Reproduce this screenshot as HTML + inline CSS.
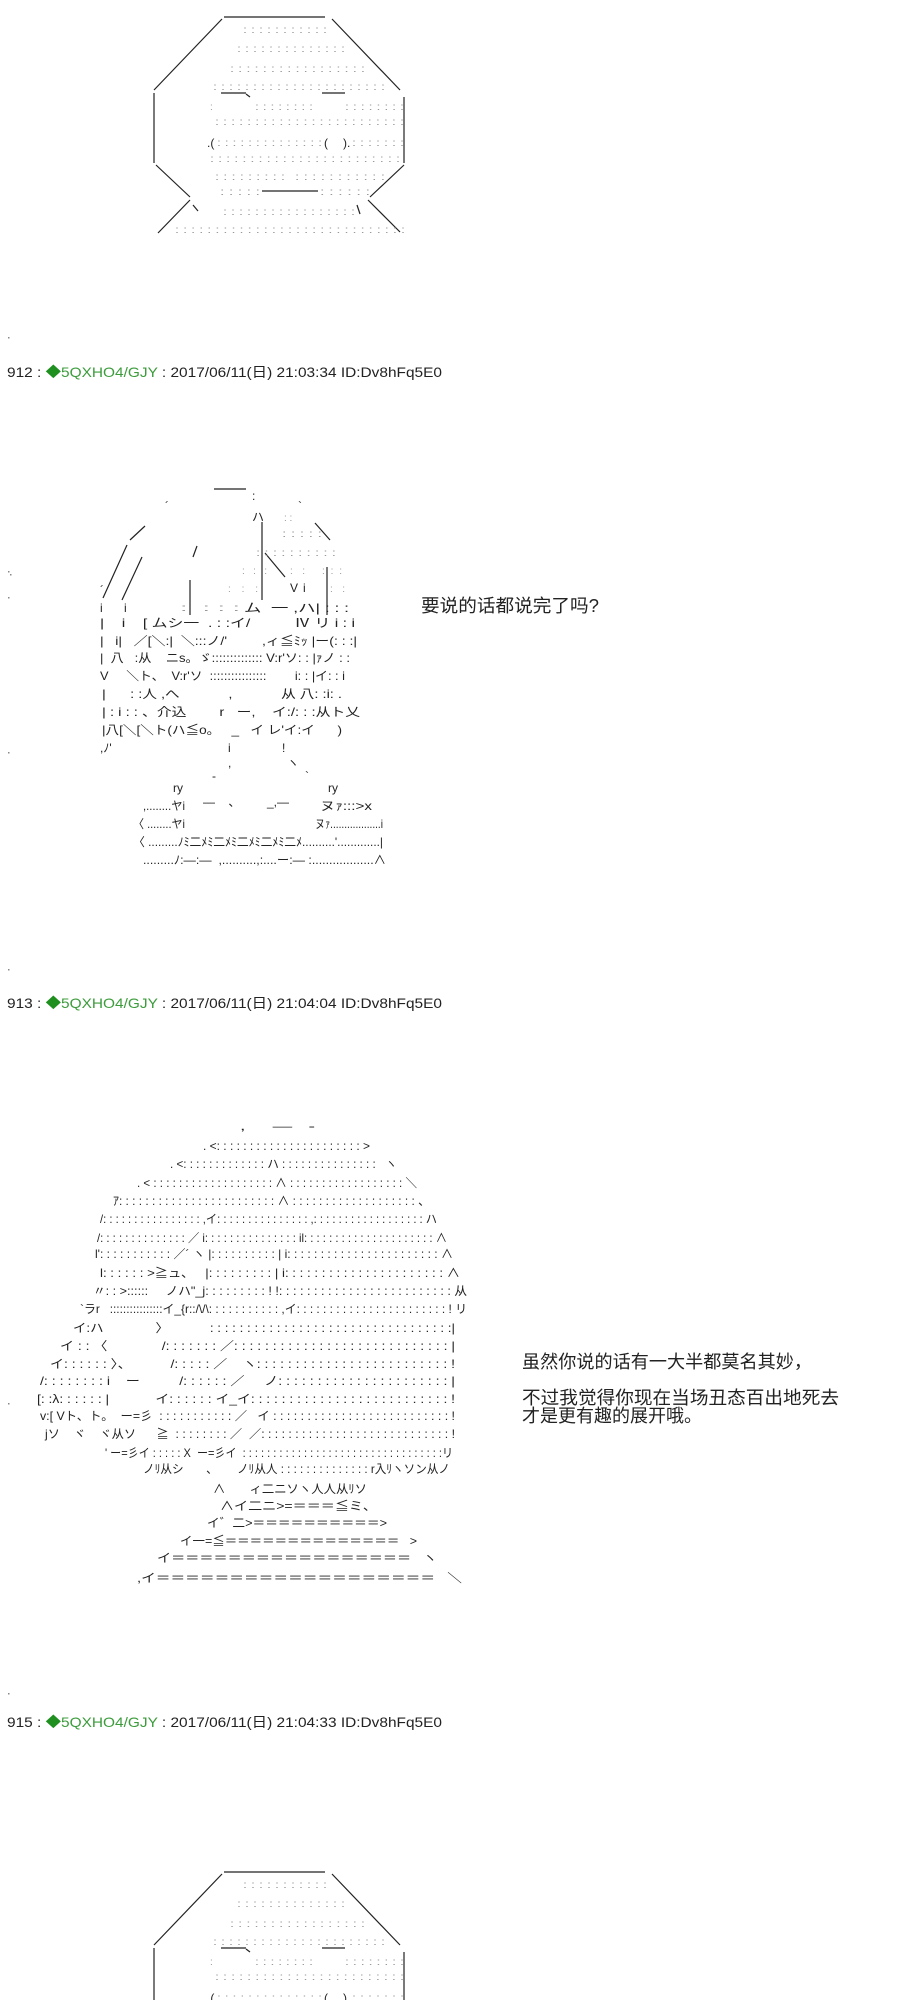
<!DOCTYPE html>
<html><head><meta charset="utf-8"><style>
html,body{margin:0;padding:0;background:#fff;}
svg{display:block;}
.a{font-family:"Liberation Sans","Noto Sans CJK JP",sans-serif;font-size:12px;fill:#222;white-space:pre;}
.d{font-family:"Liberation Sans",sans-serif;font-size:10px;fill:#999;white-space:pre;}
.h{font-family:"Liberation Sans","Noto Sans CJK JP",sans-serif;font-size:14px;fill:#222;white-space:pre;}
.s{font-family:"Liberation Sans","Noto Sans CJK SC",sans-serif;font-size:18px;fill:#222;}
line,polyline{stroke:#222;stroke-width:1.2;fill:none;}
</style></head><body>
<svg width="900" height="2000" viewBox="0 0 900 2000" xmlns="http://www.w3.org/2000/svg">
<rect width="900" height="2000" fill="#fff"/>

<g id="f1">
<line x1="224" y1="17" x2="325" y2="17"/>
<line x1="222" y1="19" x2="154" y2="90"/>
<line x1="154" y1="93" x2="154" y2="163"/>
<line x1="156" y1="165" x2="190" y2="197"/>
<line x1="190" y1="200" x2="158" y2="233"/>
<line x1="193" y1="205" x2="198" y2="211"/>
<line x1="332" y1="19" x2="400" y2="90"/>
<line x1="404" y1="97" x2="404" y2="163"/>
<line x1="404" y1="165" x2="370" y2="197"/>
<line x1="368" y1="200" x2="400" y2="232"/>
<line x1="221" y1="93" x2="246" y2="93"/><line x1="246" y1="94" x2="250" y2="97"/>
<line x1="322" y1="93" x2="345" y2="93"/>
<line x1="262" y1="191" x2="318" y2="191"/>
<line x1="357" y1="205" x2="360" y2="214"/>
<text class="d" x="243" y="33" textLength="84" lengthAdjust="spacingAndGlyphs">: : : : : : : : : : :</text>
<text class="d" x="237" y="52" textLength="108" lengthAdjust="spacingAndGlyphs">: : : : : : : : : : : : : :</text>
<text class="d" x="230" y="72" textLength="135" lengthAdjust="spacingAndGlyphs">: : : : : : : : : : : : : : : : :</text>
<text class="d" x="213" y="90" textLength="172" lengthAdjust="spacingAndGlyphs">: : : : : : : : : : : : : : : : : : : : : :</text>
<text class="d" x="210" y="110" textLength="6">:</text>
<text class="d" x="255" y="110" textLength="58" lengthAdjust="spacingAndGlyphs">: : : : : : : :</text>
<text class="d" x="345" y="110" textLength="59" lengthAdjust="spacingAndGlyphs">: : : : : : : :</text>
<text class="d" x="215" y="125" textLength="189" lengthAdjust="spacingAndGlyphs">: : : : : : : : : : : : : : : : : : : : : : : :</text>
<text class="a" x="207" y="147">.(</text>
<text class="d" x="217" y="146" textLength="105" lengthAdjust="spacingAndGlyphs">: : : : : : : : : : : : : :</text>
<text class="a" x="324" y="147">(</text><text class="a" x="343" y="147">).</text>
<text class="d" x="352" y="146" textLength="52" lengthAdjust="spacingAndGlyphs">: : : : : : :</text>
<text class="d" x="210" y="162" textLength="190" lengthAdjust="spacingAndGlyphs">: : : : : : : : : : : : : : : : : : : : : : : :</text>
<text class="d" x="215" y="180" textLength="70" lengthAdjust="spacingAndGlyphs">: : : : : : : : :</text>
<text class="d" x="295" y="180" textLength="90" lengthAdjust="spacingAndGlyphs">: : : : : : : : : : :</text>
<text class="d" x="220" y="195" textLength="40" lengthAdjust="spacingAndGlyphs">: : : : :</text>
<text class="d" x="320" y="195" textLength="50" lengthAdjust="spacingAndGlyphs">: : : : : :</text>
<text class="d" x="223" y="215" textLength="132" lengthAdjust="spacingAndGlyphs">: : : : : : : : : : : : : : : : :</text>
<text class="d" x="175" y="233" textLength="230" lengthAdjust="spacingAndGlyphs">: : : : : : : : : : : : : : : : : : : : : : : : : : : : :</text>
</g>

<g fill="#888"><rect x="8" y="337" width="1.5" height="1.5"/><rect x="8" y="571" width="1.5" height="1.5"/><rect x="10" y="574" width="1.5" height="1.5"/><rect x="8" y="597" width="1.5" height="1.5"/><rect x="8" y="752" width="1.5" height="1.5"/><rect x="8" y="969" width="1.5" height="1.5"/><rect x="8" y="1403" width="1.5" height="1.5"/><rect x="8" y="1693" width="1.5" height="1.5"/></g>

<text class="h" x="7" y="377" textLength="435" lengthAdjust="spacingAndGlyphs">912 : <tspan fill="#1f8f1f">◆</tspan><tspan fill="#3c9c3c">5QXHO4/GJY</tspan> : 2017/06/11(日) 21:03:34 ID:Dv8hFq5E0</text>
<text class="h" x="7" y="1008" textLength="435" lengthAdjust="spacingAndGlyphs">913 : <tspan fill="#1f8f1f">◆</tspan><tspan fill="#3c9c3c">5QXHO4/GJY</tspan> : 2017/06/11(日) 21:04:04 ID:Dv8hFq5E0</text>
<text class="h" x="7" y="1727" textLength="435" lengthAdjust="spacingAndGlyphs">915 : <tspan fill="#1f8f1f">◆</tspan><tspan fill="#3c9c3c">5QXHO4/GJY</tspan> : 2017/06/11(日) 21:04:33 ID:Dv8hFq5E0</text>

<line x1="214" y1="489" x2="246" y2="489"/>
<line x1="145" y1="526" x2="130" y2="540"/>
<line x1="127" y1="545" x2="103" y2="598"/>
<line x1="142" y1="557" x2="122" y2="600"/>
<line x1="197" y1="546" x2="193" y2="557"/>
<line x1="190" y1="580" x2="190" y2="615"/>
<line x1="262" y1="522" x2="262" y2="600"/>
<line x1="265" y1="553" x2="285" y2="577"/>
<line x1="315" y1="523" x2="330" y2="540"/>
<line x1="327" y1="567" x2="327" y2="615"/>
<text class="a" x="252" y="500">:</text>
<text class="a" x="165" y="510">´</text><text class="a" x="298" y="510">`</text>
<text class="a" x="252" y="521">ハ</text><text class="d" x="284" y="521">: :</text>
<text class="d" x="282" y="537" textLength="40" lengthAdjust="spacingAndGlyphs">: : : : :</text>
<text class="d" x="256" y="556" textLength="80" lengthAdjust="spacingAndGlyphs">: : : : : : : : : :</text>
<text class="d" x="242" y="574" textLength="25">: : :</text><text class="d" x="290" y="574" textLength="15">: :</text><text class="d" x="322" y="574" textLength="20">: : :</text>
<text class="a" x="100" y="594">´</text><text class="d" x="228" y="592" textLength="30">: : :</text><text class="a" x="290" y="592">V</text><text class="a" x="303" y="592">i</text><text class="d" x="330" y="592" textLength="15">: :</text>
<text class="a" x="100" y="612">i</text><text class="a" x="124" y="612">i</text><text class="d" x="180" y="611" textLength="60" lengthAdjust="spacingAndGlyphs">:  : : :</text><text class="a" x="244" y="612" textLength="105" lengthAdjust="spacingAndGlyphs">ム  一 ,ハ| : : :</text>
<text class="a" x="100" y="627" textLength="255" lengthAdjust="spacingAndGlyphs">|    i    [ ムシ一  . : :イ/          Ⅳ リ i : i</text>
<text class="a" x="100" y="645" textLength="257" lengthAdjust="spacingAndGlyphs">|   i|   ／[＼:|  ＼:::ノ/'         ,ィ≦ﾐｯ |ー(: : :|</text>
<text class="a" x="100" y="662" textLength="250" lengthAdjust="spacingAndGlyphs">|  八   :从    ニs。ゞ:::::::::::::: V:r'ソ: : |ｧノ : :</text>
<text class="a" x="100" y="680" textLength="245" lengthAdjust="spacingAndGlyphs">V     ＼ト、  V:r'ソ  ::::::::::::::::        i: : |イ: : i</text>
<text class="a" x="102" y="698" textLength="240" lengthAdjust="spacingAndGlyphs">|      : :人 ,へ            ,            从 八: :i: .</text>
<text class="a" x="102" y="716" textLength="258" lengthAdjust="spacingAndGlyphs">| : i : : 、介込        r   ー,    イ:/: : :从ト乂</text>
<text class="a" x="102" y="734" textLength="240" lengthAdjust="spacingAndGlyphs">|八[＼[＼ト(ハ≦o。   _   イ レ'イ:イ      )</text>
<text class="a" x="100" y="752">,ﾉ'</text><text class="a" x="228" y="752">i</text><text class="a" x="282" y="752">!</text>
<text class="a" x="228" y="767">,</text><text class="a" x="287" y="767">ヽ</text>
<text class="a" x="212" y="780">-</text><text class="a" x="305" y="780">`</text>
<text class="a" x="173" y="792">ry</text><text class="a" x="328" y="792">ry</text>
<text class="a" x="203" y="806">—    、        _,—</text>
<text class="a" x="143" y="810" textLength="42" lengthAdjust="spacingAndGlyphs">,........ヤi</text>
<text class="a" x="320" y="810" textLength="52" lengthAdjust="spacingAndGlyphs">ヌｧ:::>x</text>
<text class="a" x="133" y="828" textLength="52" lengthAdjust="spacingAndGlyphs">〈 ........ヤi</text>
<text class="a" x="315" y="828" textLength="68" lengthAdjust="spacingAndGlyphs">ヌｧ..................i</text>
<text class="a" x="133" y="846" textLength="250" lengthAdjust="spacingAndGlyphs">〈 .........ﾉﾐ二ﾒﾐ二ﾒﾐ二ﾒﾐ二ﾒﾐ二ﾒ..........'.............|</text>
<text class="a" x="143" y="864" textLength="243" lengthAdjust="spacingAndGlyphs">.........ﾉ:—:—  ,..........,:....ー:— :..................∧</text>

<text class="s" x="421" y="612" textLength="178" lengthAdjust="spacingAndGlyphs">要说的话都说完了吗?</text>

<text class="a" x="240" y="1130" textLength="75" lengthAdjust="spacingAndGlyphs">,     —   -</text>
<text class="a" x="203" y="1150" textLength="167" lengthAdjust="spacingAndGlyphs">. &lt;: : : : : : : : : : : : : : : : : : : : : : &gt;</text>
<text class="a" x="170" y="1168" textLength="227" lengthAdjust="spacingAndGlyphs">. &lt;: : : : : : : : : : : : : ハ : : : : : : : : : : : : : : :   ヽ</text>
<text class="a" x="137" y="1187" textLength="280" lengthAdjust="spacingAndGlyphs">. &lt; : : : : : : : : : : : : : : : : : : : ∧ : : : : : : : : : : : : : : : : : : ＼</text>
<text class="a" x="113" y="1205" textLength="317" lengthAdjust="spacingAndGlyphs">ｱ: : : : : : : : : : : : : : : : : : : : : : : : ∧ : : : : : : : : : : : : : : : : : : : 、</text>
<text class="a" x="100" y="1223" textLength="337" lengthAdjust="spacingAndGlyphs">/: : : : : : : : : : : : : : : : ,イ: : : : : : : : : : : : : : : ,: : : : : : : : : : : : : : : : : : ハ</text>
<text class="a" x="97" y="1242" textLength="350" lengthAdjust="spacingAndGlyphs">/: : : : : : : : : : : : : : ／ i: : : : : : : : : : : : : : : il: : : : : : : : : : : : : : : : : : : : : ∧</text>
<text class="a" x="95" y="1258" textLength="358" lengthAdjust="spacingAndGlyphs">l': : : : : : : : : : : ／´ ヽ |: : : : : : : : : : | i: : : : : : : : : : : : : : : : : : : : : : : ∧</text>
<text class="a" x="100" y="1277" textLength="360" lengthAdjust="spacingAndGlyphs">l: : : : : : &gt;≧ュ、   |: : : : : : : : : | i: : : : : : : : : : : : : : : : : : : : : : ∧</text>
<text class="a" x="93" y="1295" textLength="374" lengthAdjust="spacingAndGlyphs">〃: : &gt;::::::     ノハ"_j: : : : : : : : : ! !: : : : : : : : : : : : : : : : : : : : : : : : : 从</text>
<text class="a" x="80" y="1313" textLength="387" lengthAdjust="spacingAndGlyphs">`ラr   ::::::::::::::::イ_{r::/\/\: : : : : : : : : : : ,イ: : : : : : : : : : : : : : : : : : : : : : : ! リ</text>
<text class="a" x="73" y="1332" textLength="382" lengthAdjust="spacingAndGlyphs">イ:ハ              〉           : : : : : : : : : : : : : : : : : : : : : : : : : : : : : : : : :|</text>
<text class="a" x="60" y="1350" textLength="395" lengthAdjust="spacingAndGlyphs">イ : : 〈              /: : : : : : : ／: : : : : : : : : : : : : : : : : : : : : : : : : : : : |</text>
<text class="a" x="50" y="1368" textLength="405" lengthAdjust="spacingAndGlyphs">イ: : : : : : 〉、          /: : : : : ／    ヽ: : : : : : : : : : : : : : : : : : : : : : : : : !</text>
<text class="a" x="40" y="1385" textLength="415" lengthAdjust="spacingAndGlyphs">/: : : : : : : : i    ー          /: : : : : : ／     ノ: : : : : : : : : : : : : : : : : : : : : : |</text>
<text class="a" x="37" y="1403" textLength="418" lengthAdjust="spacingAndGlyphs">[: :λ: : : : : : |            イ: : : : : : イ_イ: : : : : : : : : : : : : : : : : : : : : : : : : : !</text>
<text class="a" x="40" y="1420" textLength="415" lengthAdjust="spacingAndGlyphs">v:[ Vト、ト。  ー=彡  : : : : : : : : : : : ／   イ : : : : : : : : : : : : : : : : : : : : : : : : : : !</text>
<text class="a" x="45" y="1438" textLength="410" lengthAdjust="spacingAndGlyphs">jソ    ヾ    ヾ从ソ      ≧  : : : : : : : : ／  ／: : : : : : : : : : : : : : : : : : : : : : : : : : : : !</text>
<text class="a" x="105" y="1457" textLength="348" lengthAdjust="spacingAndGlyphs">' ー=彡イ : : : : : X  ー=彡イ  : : : : : : : : : : : : : : : : : : : : : : : : : : : : : : : : :リ</text>
<text class="a" x="143" y="1473" textLength="307" lengthAdjust="spacingAndGlyphs">ノﾘ从シ       、      ノﾘ从人 : : : : : : : : : : : : : : r入ﾘヽソン从ノ</text>
<text class="a" x="213" y="1493" textLength="154" lengthAdjust="spacingAndGlyphs">∧       ィ二ニソヽ人人从ﾘソ</text>
<text class="a" x="220" y="1510" textLength="157" lengthAdjust="spacingAndGlyphs">∧イ二ニ&gt;=＝＝＝≦ミ、</text>
<text class="a" x="207" y="1527" textLength="180" lengthAdjust="spacingAndGlyphs">イ゛二&gt;＝＝＝＝＝＝＝＝＝＝&gt;</text>
<text class="a" x="180" y="1545" textLength="237" lengthAdjust="spacingAndGlyphs">イ一=≦＝＝＝＝＝＝＝＝＝＝＝＝＝＝   &gt;</text>
<text class="a" x="157" y="1562" textLength="280" lengthAdjust="spacingAndGlyphs">イ＝＝＝＝＝＝＝＝＝＝＝＝＝＝＝＝＝   ヽ</text>
<text class="a" x="137" y="1582" textLength="325" lengthAdjust="spacingAndGlyphs">,イ＝＝＝＝＝＝＝＝＝＝＝＝＝＝＝＝＝＝＝   ＼</text>

<text class="s" x="522" y="1368" textLength="290" lengthAdjust="spacingAndGlyphs">虽然你说的话有一大半都莫名其妙，</text>
<text class="s" x="522" y="1404" textLength="317" lengthAdjust="spacingAndGlyphs">不过我觉得你现在当场丑态百出地死去</text>
<text class="s" x="522" y="1422" textLength="180" lengthAdjust="spacingAndGlyphs">才是更有趣的展开哦。</text>

<g transform="translate(0,1855)">
<line x1="224" y1="17" x2="325" y2="17"/>
<line x1="222" y1="19" x2="154" y2="90"/>
<line x1="154" y1="93" x2="154" y2="163"/>
<line x1="332" y1="19" x2="400" y2="90"/>
<line x1="404" y1="97" x2="404" y2="163"/>
<line x1="221" y1="93" x2="246" y2="93"/><line x1="246" y1="94" x2="250" y2="97"/>
<line x1="322" y1="93" x2="345" y2="93"/>
<text class="d" x="243" y="33" textLength="84" lengthAdjust="spacingAndGlyphs">: : : : : : : : : : :</text>
<text class="d" x="237" y="52" textLength="108" lengthAdjust="spacingAndGlyphs">: : : : : : : : : : : : : :</text>
<text class="d" x="230" y="72" textLength="135" lengthAdjust="spacingAndGlyphs">: : : : : : : : : : : : : : : : :</text>
<text class="d" x="213" y="90" textLength="172" lengthAdjust="spacingAndGlyphs">: : : : : : : : : : : : : : : : : : : : : :</text>
<text class="d" x="210" y="110" textLength="6">:</text>
<text class="d" x="255" y="110" textLength="58" lengthAdjust="spacingAndGlyphs">: : : : : : : :</text>
<text class="d" x="345" y="110" textLength="59" lengthAdjust="spacingAndGlyphs">: : : : : : : :</text>
<text class="d" x="215" y="125" textLength="189" lengthAdjust="spacingAndGlyphs">: : : : : : : : : : : : : : : : : : : : : : : :</text>
<text class="a" x="207" y="147">.(</text>
<text class="d" x="217" y="146" textLength="105" lengthAdjust="spacingAndGlyphs">: : : : : : : : : : : : : :</text>
<text class="a" x="324" y="147">(</text><text class="a" x="343" y="147">).</text>
<text class="d" x="352" y="146" textLength="52" lengthAdjust="spacingAndGlyphs">: : : : : : :</text>
</g>
</svg>
</body></html>
